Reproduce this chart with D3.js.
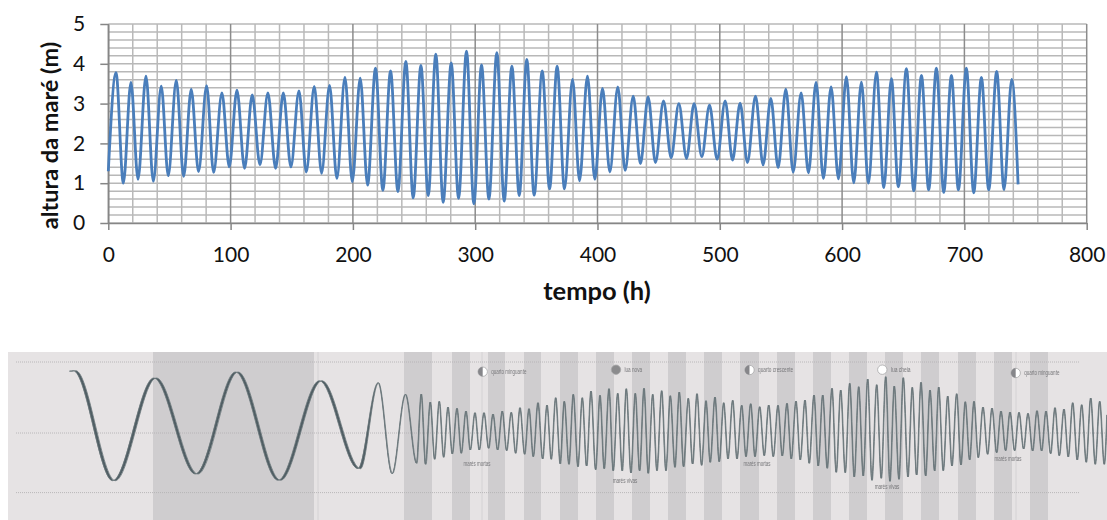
<!DOCTYPE html>
<html>
<head>
<meta charset="utf-8">
<title>altura da maré</title>
<script src="https://cdn.jsdelivr.net/npm/d3@7"></script>
<style>
  html, body { margin: 0; padding: 0; background: #fff; }
  svg { display: block; }
  text { font-family: Lato, "Open Sans", sans-serif; fill: #111; }
  .note text { font-family: "Liberation Sans", Roboto, sans-serif; fill: #77777a; }
  #figure { filter: blur(0.45px); }
</style>
</head>
<body>
<svg id="chart" width="1107" height="520"></svg>
<script>
// Gráfico de cima: extremos da maré (hora, altura em metros)
var tideHours = [0, 6.3, 12.3, 18.5, 24.3, 30.8, 36.8, 43.3, 49, 55.6, 61.6, 67.8, 73.8, 80.4, 86.1, 92.9, 98.9, 105.2, 111.4, 117.7, 124, 130.5, 136.8, 143.1, 149.3, 155.9, 161.9, 168.4, 174.4, 180.9, 186.9, 193.5, 199.5, 206, 212, 218.5, 224.5, 230.8, 236.8, 243.3, 249.3, 255.6, 261.6, 267.8, 273.8, 280.4, 286.4, 292.9, 298.9, 305.2, 311.2, 317.7, 323.7, 330, 336, 342.2, 348.2, 354.8, 360.8, 367, 373, 379.6, 385.3, 391.8, 397.8, 404.1, 410.1, 416.6, 422.6, 429.2, 435.1, 441.4, 447.4, 454, 460.2, 466.5, 472.8, 479, 485.3, 491.6, 497.8, 504.4, 510.4, 516.6, 522.6, 529.2, 535.4, 541.7, 547.7, 554, 560, 566.5, 572.5, 578.7, 584.7, 591, 597, 603.5, 609.5, 615.8, 621.5, 628.1, 634.1, 640.3, 646, 652.6, 658.6, 664.9, 670.8, 677.1, 683.1, 689.4, 695.1, 701.6, 707.6, 713.9, 719.9, 726.4, 732.4, 738.7, 743.9];
var tideHeights = [1.3, 3.78, 1, 3.53, 1.1, 3.69, 1.05, 3.44, 1.19, 3.58, 1.17, 3.36, 1.29, 3.45, 1.27, 3.27, 1.41, 3.34, 1.37, 3.22, 1.46, 3.27, 1.37, 3.27, 1.41, 3.32, 1.28, 3.43, 1.25, 3.46, 1.12, 3.66, 1.04, 3.64, 0.95, 3.89, 0.82, 3.82, 0.79, 4.06, 0.63, 3.96, 0.69, 4.24, 0.52, 4.02, 0.62, 4.32, 0.48, 3.97, 0.6, 4.28, 0.55, 3.94, 0.69, 4.11, 0.7, 3.82, 0.86, 3.94, 0.86, 3.61, 1.06, 3.69, 1.1, 3.38, 1.28, 3.42, 1.32, 3.19, 1.49, 3.17, 1.52, 3.07, 1.64, 3, 1.62, 3, 1.67, 2.96, 1.6, 3.07, 1.58, 3.01, 1.52, 3.19, 1.46, 3.13, 1.39, 3.36, 1.28, 3.27, 1.26, 3.53, 1.12, 3.42, 1.11, 3.67, 1.01, 3.54, 1, 3.79, 0.89, 3.63, 0.91, 3.88, 0.81, 3.71, 0.83, 3.89, 0.77, 3.71, 0.83, 3.89, 0.76, 3.66, 0.83, 3.81, 0.84, 3.61, 0.97];

var xTickValues = [0, 100, 200, 300, 400, 500, 600, 700, 800];
var xGridValues = d3.range(0, 801, 20);
var yTickValues = [0, 1, 2, 3, 4, 5];
var yGridValues = d3.range(0, 5.01, 0.2);

// Gráfico de baixo: extremos da curva (tempo e nível em unidades da figura)
var waveTimes = [62.7, 66.5, 106, 147, 188.7, 228.7, 271.3, 312.7, 351.3, 370.3, 384.3, 397.5, 408.7, 413.3, 417.7, 422.3, 426.7, 431.3, 435.7, 440, 444.3, 449, 453.3, 458, 462.3, 467, 471.3, 476, 480.7, 485, 489.7, 494.3, 498.7, 503.3, 507.7, 512, 516.7, 521, 525.3, 530, 534.7, 539, 543.3, 547.7, 552.3, 556.3, 561, 565.3, 570, 574.3, 578.7, 583, 587.7, 592, 596.3, 601, 605.3, 609.7, 614.3, 618.3, 623, 627.3, 631.7, 636, 640.3, 644.7, 649, 653.7, 658, 662.3, 667, 671.3, 675.7, 680.3, 684.7, 689, 693.7, 698, 702.3, 707, 711.3, 715.7, 720, 724.7, 729, 733.7, 738, 742.7, 747, 751.7, 756.3, 760.7, 765.3, 770, 774.3, 779, 783.3, 788, 792.3, 797, 801.3, 806, 810.3, 814.7, 819.3, 824, 828.3, 832.7, 837.3, 841.7, 846.3, 850.7, 855.3, 859.7, 864, 868.7, 873.3, 877.7, 882, 886.3, 891, 895.3, 900, 904.3, 908.7, 913, 917.7, 922, 926.7, 930.7, 935.3, 939.7, 944, 948.7, 953, 957.3, 961.7, 966, 970.3, 975, 979.7, 984, 988.7, 993, 997.7, 1002, 1006.7, 1011, 1015.7, 1020, 1024.7, 1029, 1033.7, 1038, 1042.7, 1047, 1051.3, 1056, 1060.3, 1064.7, 1069.3, 1073.7, 1078.3, 1082.7, 1087.3, 1091.7, 1096.3, 1099];
var waveLevels = [61.8, 62.3, -47.7, 55, -41, 61, -47.3, 52.3, -35.7, 50.3, -40.7, 38.7, -30.3, 39, -31.3, 31, -26.3, 31.7, -24.3, 26, -21, 24.7, -20.3, 22, -17, 20.3, -17, 20.3, -15.3, 19, -17, 22, -17.7, 20.7, -20.3, 25.3, -21.3, 24.3, -23.7, 30.3, -26, 28, -26.3, 35.3, -31, 31.7, -31.3, 38.7, -33.7, 35.3, -33, 42, -36.7, 37.7, -35.7, 44.3, -37.7, 39.7, -38, 44.3, -40, 39.7, -37.7, 44.7, -40.3, 38.7, -37.7, 42.3, -37.7, 37.3, -34.3, 41, -33.7, 34.7, -31, 39.3, -32.3, 32.3, -29.3, 36, -28.7, 30.3, -26, 32.7, -26, 27.7, -23.7, 29.3, -23.7, 26.3, -22.7, 28, -23.7, 27.7, -23, 29.7, -26, 32, -27, 33, -30.3, 38, -33, 38, -35.3, 44.7, -39.3, 43, -39.7, 49.7, -44, 46.3, -43, 54, -47.3, 48.3, -45.3, 56.3, -48.3, 47, -46.3, 55.3, -44, 45.7, -42, 50.7, -43, 43, -38, 46, -37.7, 37, -33, 39.3, -32, 31.3, -27, 31.7, -24.7, 26, -21.3, 25, -19.7, 22, -17.7, 21, -17.7, 20.7, -16, 19.7, -18, 22.3, -18, 22, -20.7, 25.3, -22.7, 24, -24, 30.3, -27, 28.3, -29.3, 35, -31.3, 31.7, -31.3, 18];

// Faixas escuras: início e fim no tempo da figura
var bandStarts = [145, 396, 444, 480, 516, 552, 588, 624, 660, 696, 732, 769, 805, 841, 877, 913, 950, 986, 1022];
var bandEnds = [306, 424, 462, 497, 533, 570, 606, 642, 678, 714, 751, 787, 823, 859, 895, 931, 968, 1004, 1040];
var phaseLineTimes = [310, 474, 1008];
var refLevels = [71, 0, -59.6];

var phaseNames = ['quarto minguante', 'lua nova', 'quarto crescente', 'lua cheia', 'quarto minguante'];
var phaseTimes = [474.7, 608, 741.5, 874.3, 1007.7];
var phaseLevels = [61.3, 63.3, 63, 63.3, 60];
var phaseFills = ['half', '#8b8b8d', 'half', '#fff', 'half'];

var tideNames = ['marés mortas', 'marés vivas', 'marés mortas', 'marés vivas', 'marés mortas'];
var tideNoteTimes = [469, 617, 749, 879, 1000];
var tideNoteLevels = [-31, -47.7, -31, -53.7, -25.7];

var svg = d3.select('#chart');

// --- gráfico de cima ---
var x = d3.scaleLinear().domain([0, 800]).range([108.3, 1086.7]);
var y = d3.scaleLinear().domain([0, 5]).range([223, 24]);

// Grelha
svg.append('g').selectAll('line').data(yGridValues).join('line')
  .attr('x1', x(0)).attr('x2', x(800))
  .attr('y1', d => y(d)).attr('y2', d => y(d))
  .attr('stroke', '#b8b8b8').attr('stroke-width', 1.5);

svg.append('g').selectAll('line').data(xGridValues).join('line')
  .attr('x1', d => x(d)).attr('x2', d => x(d))
  .attr('y1', y(0)).attr('y2', y(5))
  .attr('stroke', d => d % 100 === 0 ? '#8c8c8c' : '#b9b9b9')
  .attr('stroke-width', 1.5);

// Eixos
var xAxis = svg.append('g')
  .attr('transform', 'translate(0,' + y(0) + ')')
  .call(d3.axisBottom(x).tickValues(xTickValues).tickFormat(d3.format('d')).tickSize(7).tickPadding(17).tickSizeOuter(0));
var yAxis = svg.append('g')
  .attr('transform', 'translate(' + x(0) + ',0)')
  .call(d3.axisLeft(y).tickValues(yTickValues).tickFormat(d3.format('d')).tickSize(8).tickPadding(15).tickSizeOuter(0));

[xAxis, yAxis].forEach(function(axis) {
  axis.selectAll('path, line').attr('stroke', '#868686').attr('stroke-width', 1.5);
  axis.selectAll('text').style('font-size', '21px').style('font-family', 'Lato, sans-serif').attr('fill', '#111');
});

// Curva da maré
var tidePoints = d3.zip(tideHours, tideHeights);
svg.append('path')
  .datum(tidePoints)
  .attr('fill', 'none')
  .attr('stroke', '#4a7ebb')
  .attr('stroke-width', 2.8)
  .attr('d', d3.line().x(d => x(d[0])).y(d => y(d[1])).curve(d3.curveMonotoneX));

// Títulos dos eixos
svg.append('text')
  .attr('x', 597).attr('y', 300)
  .attr('text-anchor', 'middle')
  .style('font-size', '25.5px').style('font-weight', 700)
  .text('tempo (h)');

svg.append('text')
  .attr('transform', 'translate(58,135.5) rotate(-90)')
  .attr('text-anchor', 'middle')
  .style('font-size', '23.5px').style('font-weight', 700)
  .text('altura da maré (m)');

// --- figura de baixo ---
var t = d3.scaleLinear().domain([0, 1099]).range([8, 1107]);
var level = d3.scaleLinear().domain([-87, 81]).range([520, 352]);
var figure = svg.append('g').attr('id', 'figure');

figure.append('rect')
  .attr('x', t(0)).attr('y', level(81))
  .attr('width', t(1099) - t(0)).attr('height', level(-87) - level(81))
  .attr('fill', '#e6e3e4');

figure.append('g').selectAll('rect').data(d3.zip(bandStarts, bandEnds)).join('rect')
  .attr('x', d => t(d[0])).attr('y', level(81))
  .attr('width', d => t(d[1]) - t(d[0]))
  .attr('height', level(-87) - level(81))
  .attr('fill', '#cfcdcf');

figure.append('g').selectAll('line').data(phaseLineTimes).join('line')
  .attr('x1', d => t(d)).attr('x2', d => t(d))
  .attr('y1', level(81)).attr('y2', level(-87))
  .attr('stroke', '#d4d2d4').attr('stroke-width', 1);

figure.append('g').selectAll('line').data(refLevels).join('line')
  .attr('x1', t(8)).attr('x2', d => d === 0 ? t(1099) : t(1072))
  .attr('y1', d => level(d)).attr('y2', d => level(d))
  .attr('stroke', '#b4b2b4').attr('stroke-width', 0.9)
  .attr('stroke-dasharray', '1 1');

// Curva: mais grossa nas subidas e descidas, como um traço de pena
var wavePoints = d3.zip(waveTimes, waveLevels);
var penWidth = d => d[0] < 352 ? 1.3 : 0.3;
figure.append('path')
  .datum(wavePoints)
  .attr('fill', '#4f5d63')
  .attr('stroke', '#6b777b')
  .attr('stroke-width', 0.8)
  .attr('d', d3.area()
    .x0(d => t(d[0]) - penWidth(d)).x1(d => t(d[0]) + penWidth(d))
    .y0(d => level(d[1])).y1(d => level(d[1]))
    .curve(d3.curveMonotoneX));

// Fases da lua
var phases = d3.zip(phaseNames, phaseTimes, phaseLevels, phaseFills);
var phase = figure.append('g').attr('class', 'note').selectAll('g').data(phases).join('g')
  .attr('transform', d => 'translate(' + t(d[1]) + ',' + level(d[2]) + ')');

phase.append('circle')
  .attr('r', 4.7)
  .attr('fill', d => d[3] === 'half' ? '#fff' : d[3])
  .attr('stroke', '#a8a8aa').attr('stroke-width', 0.8);

phase.filter(d => d[3] === 'half').append('path')
  .attr('d', d3.arc()({ innerRadius: 0, outerRadius: 4.7, startAngle: Math.PI, endAngle: 2 * Math.PI }))
  .attr('fill', '#86868a');

phase.append('text')
  .attr('x', 8.5).attr('dy', '0.35em')
  .attr('textLength', d => d[0].length * 2.2)
  .attr('lengthAdjust', 'spacingAndGlyphs')
  .style('font-size', '6.5px')
  .text(d => d[0]);

// Marés vivas e mortas
figure.append('g').attr('class', 'note').selectAll('text').data(d3.zip(tideNames, tideNoteTimes, tideNoteLevels)).join('text')
  .attr('x', d => t(d[1])).attr('y', d => level(d[2]))
  .attr('text-anchor', 'middle').attr('dy', '0.35em')
  .attr('textLength', d => d[0].length * 2.25)
  .attr('lengthAdjust', 'spacingAndGlyphs')
  .style('font-size', '6.5px')
  .text(d => d[0]);
</script>
</body>
</html>
